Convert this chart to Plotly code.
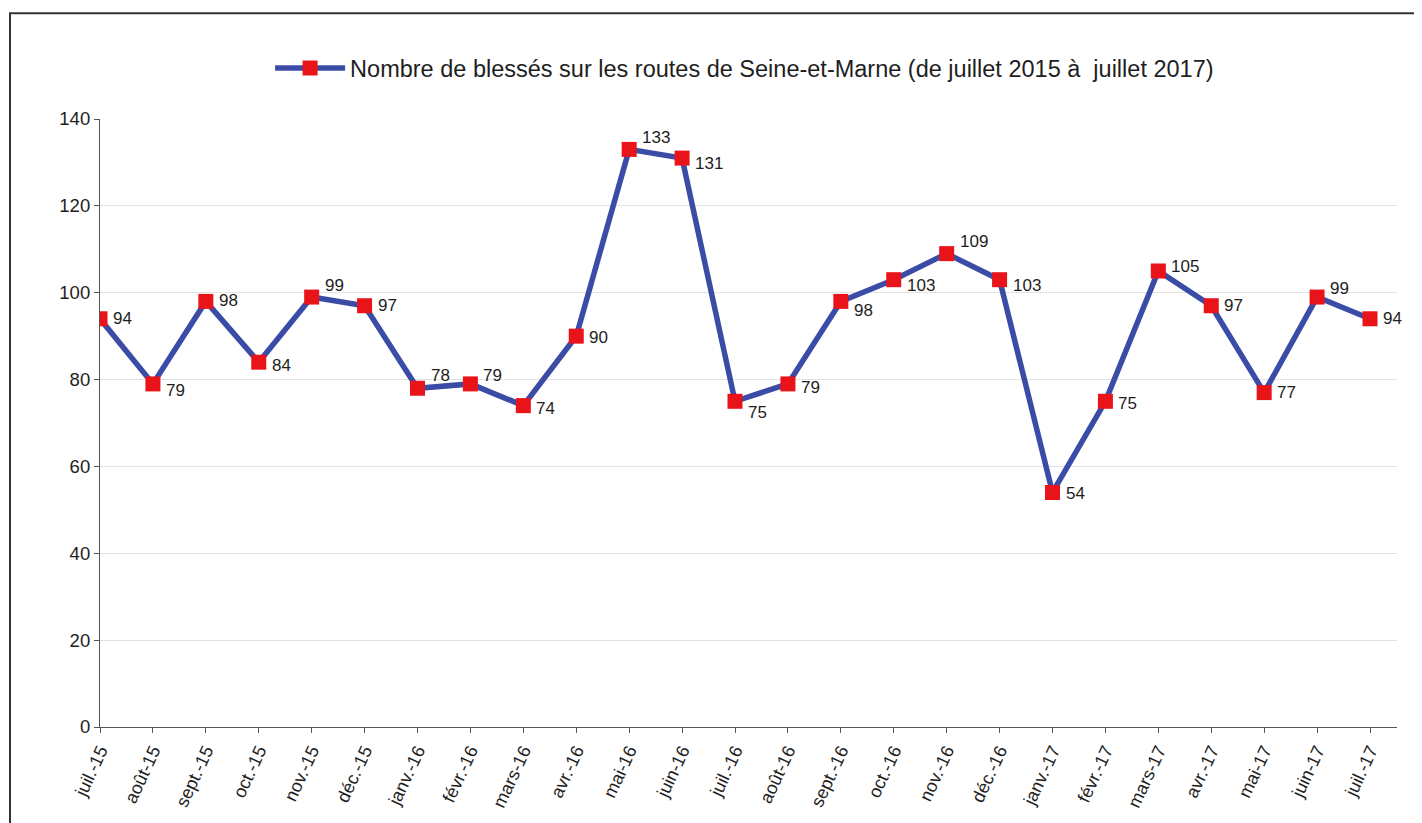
import plotly.graph_objects as go

months = ["juil.-15", "août-15", "sept.-15", "oct.-15", "nov.-15", "déc.-15",
          "janv.-16", "févr.-16", "mars-16", "avr.-16", "mai-16", "juin-16",
          "juil.-16", "août-16", "sept.-16", "oct.-16", "nov.-16", "déc.-16",
          "janv.-17", "févr.-17", "mars-17", "avr.-17", "mai-17", "juin-17", "juil.-17"]
blesses = [94, 79, 98, 84, 99, 97, 78, 79, 74, 90, 133, 131,
           75, 79, 98, 103, 109, 103, 54, 75, 105, 97, 77, 99, 94]
series_name = "Nombre de blessés sur les routes de Seine-et-Marne (de juillet 2015 à  juillet 2017)"

# vertical offsets of data labels (px, positive = up)
label_shift = [0, -7, 1, -3, 12, 0, 13, 8, -3, -1, 12, -5,
               -11, -4, -9, -6, 12, -6, -1, -2, 5, 0, 0, 9, 0]

line_color = "#3a4ca5"
marker_color = "#e8141a"

x_idx = list(range(len(months)))

W, H = 1414, 815
L, T, B, R = 92, 111, 94, 25
pw, ph = W - L - R, H - T - B

fig = go.Figure()
fig.add_trace(go.Scatter(
    x=x_idx, y=blesses, mode="lines+markers", name=series_name,
    line=dict(color=line_color, width=5.5),
    marker=dict(symbol="square", size=15, color=marker_color, line=dict(width=0)),
    showlegend=True,
))

annotations = []
for xi, v, s in zip(x_idx, blesses, label_shift):
    annotations.append(dict(
        x=xi, y=v, xref="x", yref="y", text=str(v), showarrow=False,
        xanchor="left", yanchor="middle", xshift=11, yshift=s,
        font=dict(family="Liberation Sans, Arial", size=17, color="#1e1e1e"),
    ))

fig.update_layout(
    width=W, height=H,
    margin=dict(l=L, r=R, t=T, b=B),
    paper_bgcolor="white", plot_bgcolor="white",
    font=dict(family="Liberation Sans, Arial", color="#1e1e1e"),
    showlegend=True,
    legend=dict(
        orientation="h", x=0.497, xanchor="center", y=(721 - 60) / ph, yanchor="middle",
        font=dict(size=23.5, color="#1e1e1e"), itemwidth=70,
        bgcolor="rgba(0,0,0,0)",
    ),
    xaxis=dict(
        range=[0, 24 * pw / 1270], tickmode="array", tickvals=x_idx, ticktext=months,
        tickangle=-65, tickfont=dict(size=18, color="#1e1e1e"),
        showgrid=False, showline=True, linecolor="#555555", linewidth=1.2,
        ticks="outside", ticklen=5, tickcolor="#555555", zeroline=False,
    ),
    yaxis=dict(
        range=[0, 140], dtick=20, tickfont=dict(size=18.5, color="#1e1e1e"),
        showgrid=True, gridcolor="#e2e2e2", gridwidth=1,
        showline=True, linecolor="#555555", linewidth=1.2,
        ticks="outside", ticklen=5, tickcolor="#555555", zeroline=False,
    ),
    annotations=annotations,
    shapes=[dict(
        type="rect", xref="paper", yref="paper",
        x0=(2 - L) / pw, x1=(1430 - L) / pw,
        y0=(721 - 840) / ph, y1=(721 - 5) / ph,
        line=dict(color="#333333", width=2), fillcolor="rgba(0,0,0,0)", layer="below",
    )],
)

fig.write_html("out.html")
